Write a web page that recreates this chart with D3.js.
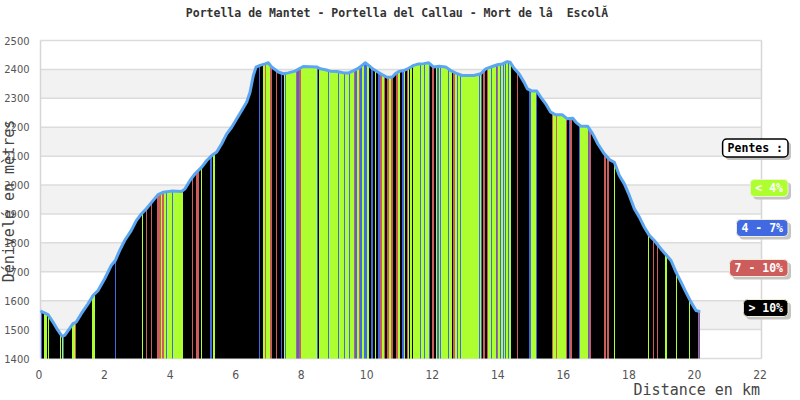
<!DOCTYPE html>
<html><head><meta charset="utf-8">
<script src="https://cdn.jsdelivr.net/npm/d3@7"></script>
<style>
html,body{margin:0;padding:0;background:#fff;}
svg{display:block;}
</style></head>
<body>
<svg id="c" width="800" height="400"></svg>
<script>
const titleText = "Portella de Mantet - Portella del Callau - Mort de lâ  EscolĂ";
const yTitle = "Dénivelé en mètres";
const xTitle = "Distance en km";
const yTicks = [1400,1500,1600,1700,1800,1900,2000,2100,2200,2300,2400,2500];
const xTicks = [0,2,4,6,8,10,12,14,16,18,20,22];
const legendTitle = "Pentes :";
const classLabels = ["< 4%","4 - 7%","7 - 10%","> 10%"];

const distKm = [0,0.024,0.229,0.381,0.534,0.656,0.738,0.891,0.992,1.092,1.245,1.449,1.602,1.755,1.959,2.160,2.283,2.417,2.569,2.771,2.923,3.076,3.229,3.433,3.586,3.738,3.991,
4.309,4.409,4.562,4.715,4.919,5.072,5.224,5.377,5.529,5.682,5.834,5.987,6.140,6.292,6.393,6.494,6.576,6.698,6.851,6.951,7.055,7.156,7.257,7.409,7.562,7.766,7.919,8.019,
8.437,8.538,8.691,8.843,9.048,9.252,9.405,9.557,9.710,9.811,9.911,10.015,10.137,10.268,10.421,10.573,10.726,10.827,10.931,11.083,11.236,11.388,11.541,11.694,11.846,11.998,
12.160,12.365,12.517,12.719,12.871,13.228,13.433,13.585,13.787,13.939,14.092,14.244,14.327,14.449,14.601,14.754,14.855,15.007,15.141,15.263,15.416,15.568,15.721,15.923,16.075,
16.240,16.341,16.493,16.698,16.850,17.003,17.204,17.357,17.509,17.662,17.815,17.967,18.120,18.272,18.425,18.577,18.730,18.934,19.087,19.239,19.392,19.545,19.697,19.850,20.002,20.103,20.134];
const elevM = [1565,1563,1552,1526,1497,1477,1480,1504,1521,1526,1555,1589,1618,1635,1676,1722,1739,1774,1808,1843,1877,1900,1918,1946,1967,1975,1979,
1978,1987,2016,2039,2062,2085,2102,2114,2143,2177,2200,2229,2258,2287,2321,2379,2408,2414,2419,2423,2408,2400,2391,2385,2388,2394,2404,2410,
2408,2402,2399,2394,2393,2388,2388,2396,2405,2414,2423,2414,2402,2393,2382,2373,2373,2385,2393,2396,2404,2414,2419,2420,2423,2408,
2411,2408,2396,2385,2379,2379,2385,2402,2410,2416,2419,2427,2425,2404,2385,2356,2333,2325,2325,2304,2281,2252,2243,2243,2229,
2231,2217,2203,2203,2177,2143,2108,2088,2079,2033,2004,1964,1918,1889,1854,1826,1808,1779,1759,1739,1699,1664,1629,1595,1566,1563,1563];

// slope class per segment: 0 "< 4%", 1 "4 - 7%", 2 "7 - 10%", 3 "> 10%"
const segStart = [0.000,0.061,0.107,0.2075,0.229,0.259,0.595,0.626,0.656,0.687,0.732,0.976,1.038,1.053,1.074,1.581,1.648,2.273,2.304,3.106,3.137,3.219,3.250,3.372,3.402,3.540,3.677,3.708,3.769,3.830,3.860,4.004,4.034,4.358,4.614,4.663,4.745,4.846,4.889,4.928,5.172,5.233,5.273,5.325,
6.677,6.707,6.799,6.860,6.890,7.012,7.055,7.186,7.217,7.339,7.378,7.421,7.461,7.501,7.797,7.836,7.888,7.940,8.437,8.468,8.508,8.773,8.813,9.078,9.118,9.252,9.283,9.405,9.454,9.557,9.606,9.658,9.710,9.759,9.811,9.863,9.963,
10.015,10.085,10.137,10.198,10.238,10.299,10.351,10.369,10.421,10.473,10.522,10.573,10.625,10.705,10.747,10.848,10.900,10.979,11.031,11.083,11.132,11.184,11.214,11.236,11.285,11.336,11.367,11.589,11.620,11.694,11.724,11.846,11.895,11.937,11.998,
12.008,12.060,12.108,12.160,12.190,12.221,12.435,12.474,12.566,12.597,12.648,12.700,12.740,12.801,12.841,13.381,13.411,13.451,13.482,13.512,13.555,13.616,13.655,13.737,13.778,13.891,13.921,13.961,14.022,14.061,14.113,14.144,14.174,14.205,14.266,14.296,14.367,14.549,14.580,14.907,14.959,
15.111,15.160,15.618,15.648,15.721,15.752,16.027,16.075,16.136,16.167,16.219,16.442,16.472,16.698,16.747,16.799,17.204,17.256,17.287,17.339,17.491,17.531,18.529,18.577,18.700,18.730,18.812,18.843,19.066,19.118,19.392,19.423,19.798,19.829,20.054,20.085];
const segClass = [1,3,0,3,0,3,0,3,0,1,3,0,3,2,3,0,3,1,3,0,3,2,3,2,3,2,0,2,0,1,0,1,0,3,2,3,2,3,0,3,1,3,0,3,
1,3,0,2,0,2,3,2,3,1,3,0,1,0,2,1,2,0,1,3,0,1,0,1,0,1,0,1,0,2,1,0,2,1,0,1,0,
3,1,3,0,3,1,0,2,0,2,3,2,0,2,3,2,0,3,1,0,3,2,0,3,0,3,0,1,0,1,0,1,3,2,0,
3,0,1,0,1,0,1,0,3,2,0,1,0,1,0,1,0,1,3,2,3,2,0,1,0,1,2,0,1,0,1,0,1,0,1,0,3,2,3,1,0,
1,3,2,0,2,0,2,3,1,2,3,1,0,1,2,3,2,3,2,3,0,3,0,3,2,3,2,3,0,3,0,3,0,3,2,1];
const totalKm = 20.134;

const classColors = ["#adff2f","#4169e1","#cd5c5c","#000000"];

const svg = d3.select("#c");
const x = d3.scaleLinear().domain([0,22]).range([40.5,761.5]);
const y = d3.scaleLinear().domain([1400,2500]).range([358.5,40.5]);

// bands
svg.append("g").selectAll("rect").data(yTicks.slice(0,-1)).join("rect")
  .attr("x",x(0)).attr("width",x(22)-x(0))
  .attr("y",d=>y(d+100)).attr("height",d=>y(d)-y(d+100))
  .attr("fill",(d,i)=> i%2===1 ? "#f2f2f2" : "#ffffff");
// grid lines
svg.append("g").selectAll("line").data(yTicks).join("line")
  .attr("x1",x(0)).attr("x2",x(22)).attr("y1",d=>y(d)).attr("y2",d=>y(d))
  .attr("stroke","#dcdcdc").attr("stroke-width",1.5);
svg.append("line").attr("x1",x(0)).attr("x2",x(0)).attr("y1",y(2500)).attr("y2",y(1400)).attr("stroke","#d6d6d6").attr("stroke-width",1.5);
svg.append("line").attr("x1",x(22)).attr("x2",x(22)).attr("y1",y(2500)).attr("y2",y(1400)).attr("stroke","#d6d6d6").attr("stroke-width",1.5);

const pts = distKm.map((d,i)=>[d,elevM[i]]);
const area = d3.area().x(d=>x(d[0])).y0(y(1400)).y1(d=>y(d[1]));
svg.append("clipPath").attr("id","prof").append("path").attr("d",area(pts));

const segs = segStart.map((s,i)=>({s, e: i<segStart.length-1 ? segStart[i+1] : totalKm, c: segClass[i]}));
svg.append("g").attr("clip-path","url(#prof)").selectAll("rect").data(segs).join("rect")
  .attr("x",d=>x(d.s)).attr("width",d=>Math.max(0.8,x(d.e)-x(d.s)))
  .attr("y",y(2500)).attr("height",y(1400)-y(2500))
  .attr("fill",d=>classColors[d.c]).attr("shape-rendering","crispEdges");

svg.append("path").attr("d",d3.line().x(d=>x(d[0])).y(d=>y(d[1]))(pts))
  .attr("fill","none").attr("stroke","#5ba6f2").attr("stroke-width",3).attr("stroke-linejoin","round");

// axes
const yAxis = svg.append("g").attr("transform",`translate(${x(0)},0)`)
  .call(d3.axisLeft(y).tickValues(yTicks).tickSize(0).tickPadding(11).tickFormat(d3.format("d")));
yAxis.select(".domain").remove();
yAxis.selectAll("text").attr("fill","#555").style("font-family","'DejaVu Sans Condensed','DejaVu Sans',sans-serif").style("font-size","11px");

const xAxis = svg.append("g").attr("transform",`translate(-2,${y(1400)})`)
  .call(d3.axisBottom(x).tickValues(xTicks).tickSize(0).tickPadding(12).tickFormat(d3.format("d")));
xAxis.select(".domain").remove();
xAxis.selectAll("text").attr("fill","#555").style("font-family","'DejaVu Sans Condensed','DejaVu Sans',sans-serif").style("font-size","12px");

// titles
const mono = "'DejaVu Sans Mono','Liberation Mono',monospace";
svg.append("text").attr("x",397).attr("y",17).attr("text-anchor","middle").style("white-space","pre")
  .style("font-family",mono).style("font-weight","bold").style("font-size","11.5px").attr("fill","#333").text(titleText);
svg.append("text").attr("transform","translate(14,201) rotate(-90)").attr("text-anchor","middle")
  .style("font-family",mono).style("font-size","15px").attr("fill","#444").text(yTitle);
svg.append("text").attr("x",760).attr("y",395).attr("text-anchor","end")
  .style("font-family",mono).style("font-size","15px").attr("fill","#444").text(xTitle);

// legend
const legItems = [{t:legendTitle, fill:"#ffffff", stroke:"#000", tc:"#000"}]
  .concat(classLabels.map((t,i)=>({t, fill:classColors[i], stroke:"#f3efd6", tc:"#fff"})));
const lg = svg.append("g");
legItems.forEach((it,i)=>{
  const cy = 148 + i*40;
  const g = lg.append("g");
  const txt = g.append("text").attr("y",cy+4).attr("text-anchor","middle")
    .style("font-family",mono).style("font-weight","bold").style("font-size","11.5px").attr("fill",it.tc).text(it.t);
  const w = txt.node().getComputedTextLength() + 10;
  const h = i===0 ? 18 : 17;
  const x0 = 788 - w;
  g.insert("rect","text").attr("x",x0+3).attr("y",cy-h/2+3).attr("width",w).attr("height",h).attr("rx",4).attr("fill","#c4c4c4");
  g.insert("rect","text").attr("x",x0).attr("y",cy-h/2).attr("width",w).attr("height",h).attr("rx",4)
    .attr("fill",it.fill).attr("stroke",it.stroke).attr("stroke-width",i===0?1.5:1);
  txt.attr("x",x0+w/2);
});
</script>
</body></html>
